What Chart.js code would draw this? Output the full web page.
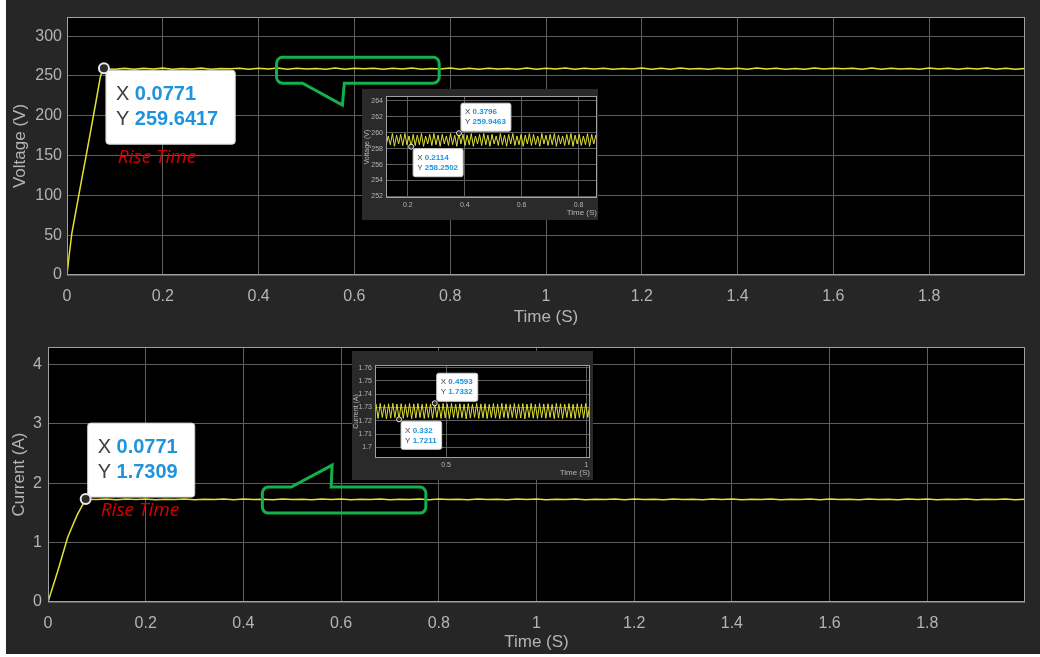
<!DOCTYPE html>
<html>
<head>
<meta charset="utf-8">
<script src="https://cdn.jsdelivr.net/npm/chart.js@4.4.1/dist/chart.umd.min.js"></script>
<style>
  body { margin: 0; background: #ffffff; }
  #fig { position: absolute; left: 6px; top: 0; width: 1034px; height: 654px; background: #262626; }
  canvas { position: absolute; }
  #vMain { left: 0; top: 0; }
  #iMain { left: 0; top: 330px; }
  #vZoom { left: 362px; top: 89px; background: #2a2a2a; }
  #iZoom { left: 352px; top: 351px; background: #2a2a2a; }
</style>
</head>
<body>
<div id="fig"></div>
<canvas id="vMain" width="1040" height="330"></canvas>
<canvas id="iMain" width="1040" height="324"></canvas>
<canvas id="vZoom" width="236" height="131"></canvas>
<canvas id="iZoom" width="241" height="129"></canvas>
<script>
// ---- data ----
const riseTimeV = [0, 0.004, 0.01, 0.02, 0.03, 0.04, 0.05, 0.06, 0.07, 0.0771];
const riseVoltage = [0, 22, 52, 85, 118, 150, 183, 216, 250, 259.6417];

const riseTimeI = [0, 0.01, 0.02, 0.03, 0.04, 0.05, 0.06, 0.07, 0.0771];
const riseCurrent = [0, 0.26, 0.52, 0.8, 1.08, 1.28, 1.47, 1.62, 1.7309];

const steadyTime = [
  0.08, 0.10, 0.12, 0.14, 0.16, 0.18, 0.20, 0.22, 0.24, 0.26,
  0.28, 0.30, 0.32, 0.34, 0.36, 0.38, 0.40, 0.42, 0.44, 0.46,
  0.48, 0.50, 0.52, 0.54, 0.56, 0.58, 0.60, 0.62, 0.64, 0.66,
  0.68, 0.70, 0.72, 0.74, 0.76, 0.78, 0.80, 0.82, 0.84, 0.86,
  0.88, 0.90, 0.92, 0.94, 0.96, 0.98, 1.00, 1.02, 1.04, 1.06,
  1.08, 1.10, 1.12, 1.14, 1.16, 1.18, 1.20, 1.22, 1.24, 1.26,
  1.28, 1.30, 1.32, 1.34, 1.36, 1.38, 1.40, 1.42, 1.44, 1.46,
  1.48, 1.50, 1.52, 1.54, 1.56, 1.58, 1.60, 1.62, 1.64, 1.66,
  1.68, 1.70, 1.72, 1.74, 1.76, 1.78, 1.80, 1.82, 1.84, 1.86,
  1.88, 1.90, 1.92, 1.94, 1.96, 1.98, 2.00,
];
const steadyVoltage = [
  259.1, 258.5, 259.7, 258.4, 259.6, 258.8, 259.9, 258.3, 259.4, 258.6,
  259.8, 258.5, 259.3, 258.9, 259.7, 258.4, 259.5, 258.7, 259.9, 258.3,
  259.6, 258.6, 259.2, 258.5, 259.8, 258.4, 259.6, 258.9, 259.7, 258.3,
  259.5, 258.6, 259.9, 258.5, 259.4, 258.7, 259.8, 258.4, 259.6, 258.3,
  259.7, 258.8, 259.3, 258.5, 259.9, 258.4, 259.6, 258.6, 259.8, 258.3,
  259.5, 258.7, 259.7, 258.4, 259.2, 258.6, 259.9, 258.5, 259.6, 258.3,
  259.8, 258.8, 259.4, 258.4, 259.7, 258.6, 259.5, 258.3, 259.9, 258.7,
  259.6, 258.5, 259.3, 258.4, 259.8, 258.6, 259.7, 258.9, 259.5, 258.3,
  259.9, 258.5, 259.6, 258.7, 259.4, 258.4, 259.8, 258.6, 259.7, 258.3,
  259.5, 258.8, 259.9, 258.4, 259.6, 258.5, 259.2,
];
const steadyCurrent = [
  1.728, 1.723, 1.732, 1.722, 1.731, 1.724, 1.733, 1.721, 1.730, 1.723,
  1.732, 1.722, 1.729, 1.724, 1.731, 1.721, 1.733, 1.723, 1.730, 1.722,
  1.732, 1.724, 1.729, 1.721, 1.731, 1.723, 1.733, 1.722, 1.730, 1.724,
  1.732, 1.721, 1.729, 1.723, 1.731, 1.722, 1.733, 1.724, 1.730, 1.721,
  1.732, 1.723, 1.729, 1.722, 1.731, 1.724, 1.733, 1.721, 1.730, 1.723,
  1.732, 1.722, 1.729, 1.724, 1.731, 1.721, 1.733, 1.723, 1.730, 1.722,
  1.732, 1.724, 1.729, 1.721, 1.731, 1.723, 1.733, 1.722, 1.730, 1.724,
  1.732, 1.721, 1.729, 1.723, 1.731, 1.722, 1.733, 1.724, 1.730, 1.721,
  1.732, 1.723, 1.729, 1.722, 1.731, 1.724, 1.733, 1.721, 1.730, 1.723,
  1.732, 1.722, 1.729, 1.724, 1.731, 1.721, 1.728,
];

// zoomed ripple, voltage inset
const zoomTimeV = [
  0.1163, 0.1236, 0.1309, 0.1382, 0.1455, 0.1528, 0.1601, 0.1674, 0.1747, 0.1820,
  0.1893, 0.1966, 0.2039, 0.2114, 0.2185, 0.2258, 0.2331, 0.2404, 0.2477, 0.2550,
  0.2623, 0.2696, 0.2769, 0.2842, 0.2915, 0.2988, 0.3061, 0.3134, 0.3207, 0.3280,
  0.3353, 0.3426, 0.3499, 0.3572, 0.3645, 0.3718, 0.3796, 0.3864, 0.3937, 0.4010,
  0.4083, 0.4156, 0.4229, 0.4302, 0.4375, 0.4448, 0.4521, 0.4594, 0.4667, 0.4740,
  0.4813, 0.4886, 0.4959, 0.5032, 0.5105, 0.5178, 0.5251, 0.5324, 0.5397, 0.5470,
  0.5543, 0.5616, 0.5689, 0.5762, 0.5835, 0.5908, 0.5981, 0.6054, 0.6127, 0.6200,
  0.6273, 0.6346, 0.6419, 0.6492, 0.6565, 0.6638, 0.6711, 0.6784, 0.6857, 0.6930,
  0.7003, 0.7076, 0.7149, 0.7222, 0.7295, 0.7368, 0.7441, 0.7514, 0.7587, 0.7660,
  0.7733, 0.7806, 0.7879, 0.7952, 0.8025, 0.8098, 0.8171, 0.8244, 0.8317, 0.8390,
  0.8463, 0.8536, 0.8609, 0.8682, 0.8755,
];
const zoomVoltage = [
  259.8, 258.4, 259.6, 258.5, 259.9, 258.3, 259.7, 258.6, 259.8, 258.4,
  259.9, 258.5, 259.6, 258.2502, 259.8, 258.4, 259.7, 258.5, 259.9, 258.3,
  259.6, 258.6, 259.8, 258.4, 259.9, 258.5, 259.7, 258.3, 259.8, 258.6,
  259.6, 258.4, 259.9, 258.5, 259.7, 258.3, 259.9463, 258.6, 259.8, 258.4,
  259.7, 258.5, 259.9, 258.3, 259.6, 258.6, 259.8, 258.4, 259.9, 258.5,
  259.7, 258.3, 259.8, 258.6, 259.6, 258.4, 259.9, 258.5, 259.7, 258.3,
  259.8, 258.6, 259.9, 258.4, 259.6, 258.5, 259.8, 258.3, 259.7, 258.6,
  259.9, 258.4, 259.8, 258.5, 259.6, 258.3, 259.9, 258.6, 259.7, 258.4,
  259.8, 258.5, 259.9, 258.3, 259.7, 258.6, 259.6, 258.4, 259.8, 258.5,
  259.9, 258.3, 259.7, 258.6, 259.8, 258.4, 259.6, 258.5, 259.9, 258.3,
  259.8, 258.6, 259.7, 258.4, 259.9,
];

// zoomed ripple, current inset
const zoomTimeI = [
  0.2421, 0.2496, 0.2571, 0.2646, 0.2721, 0.2796, 0.2870, 0.2945, 0.3020, 0.3095,
  0.3170, 0.3245, 0.3320, 0.3395, 0.3470, 0.3545, 0.3619, 0.3694, 0.3769, 0.3844,
  0.3919, 0.3994, 0.4069, 0.4144, 0.4219, 0.4294, 0.4368, 0.4443, 0.4518, 0.4593,
  0.4668, 0.4743, 0.4818, 0.4893, 0.4968, 0.5043, 0.5117, 0.5192, 0.5267, 0.5342,
  0.5417, 0.5492, 0.5567, 0.5642, 0.5717, 0.5792, 0.5866, 0.5941, 0.6016, 0.6091,
  0.6166, 0.6241, 0.6316, 0.6391, 0.6466, 0.6541, 0.6615, 0.6690, 0.6765, 0.6840,
  0.6915, 0.6990, 0.7065, 0.7140, 0.7215, 0.7290, 0.7364, 0.7439, 0.7514, 0.7589,
  0.7664, 0.7739, 0.7814, 0.7889, 0.7964, 0.8039, 0.8113, 0.8188, 0.8263, 0.8338,
  0.8413, 0.8488, 0.8563, 0.8638, 0.8713, 0.8788, 0.8862, 0.8937, 0.9012, 0.9087,
  0.9162, 0.9237, 0.9312, 0.9387, 0.9462, 0.9537, 0.9611, 0.9686, 0.9761, 0.9836,
  0.9911, 0.9986, 1.0061, 1.0136, 1.0211,
];
const zoomCurrent = [
  1.7222, 1.7325, 1.7218, 1.7330, 1.7225, 1.7322, 1.7215, 1.7328, 1.7220, 1.7331,
  1.7224, 1.7326, 1.7211, 1.7329, 1.7219, 1.7323, 1.7226, 1.7330, 1.7216, 1.7327,
  1.7221, 1.7331, 1.7224, 1.7325, 1.7217, 1.7329, 1.7223, 1.7326, 1.7219, 1.7332,
  1.7225, 1.7324, 1.7218, 1.7330, 1.7222, 1.7327, 1.7216, 1.7331, 1.7224, 1.7325,
  1.7219, 1.7329, 1.7223, 1.7326, 1.7215, 1.7330, 1.7221, 1.7324, 1.7226, 1.7331,
  1.7218, 1.7327, 1.7222, 1.7329, 1.7217, 1.7325, 1.7224, 1.7330, 1.7220, 1.7326,
  1.7216, 1.7331, 1.7223, 1.7328, 1.7219, 1.7324, 1.7225, 1.7330, 1.7218, 1.7327,
  1.7221, 1.7329, 1.7215, 1.7326, 1.7224, 1.7331, 1.7220, 1.7325, 1.7217, 1.7330,
  1.7223, 1.7327, 1.7219, 1.7329, 1.7226, 1.7324, 1.7216, 1.7331, 1.7222, 1.7328,
  1.7218, 1.7326, 1.7224, 1.7330, 1.7220, 1.7325, 1.7217, 1.7329, 1.7223, 1.7327,
  1.7219, 1.7331, 1.7225, 1.7326, 1.7218,
];

// tick labels
const timeTicks = [0, 0.2, 0.4, 0.6, 0.8, 1, 1.2, 1.4, 1.6, 1.8];
const voltTicks = [0, 50, 100, 150, 200, 250, 300];
const currTicks = [0, 1, 2, 3, 4];
const zoomVoltTicks = [252, 254, 256, 258, 260, 262, 264];
const zoomVoltTimeTicks = [0.2, 0.4, 0.6, 0.8];
const zoomCurrTicks = [1.7, 1.71, 1.72, 1.73, 1.74, 1.75, 1.76];
const zoomCurrTimeTicks = [0.5, 1];

// annotations (data units)
const voltCallout = { x0: 0.4375, x1: 0.777, y0: 240.9, y1: 273.5, tail: 'bottom', base0: 0.4917, base1: 0.579, tipX: 0.575, tipY: 213.3 };
const currCallout = { x0: 0.4388, x1: 0.7735, y0: 1.496, y1: 1.933, tail: 'top', base0: 0.498, base1: 0.5796, tipX: 0.5816, tipY: 2.303 };
const voltNote = { x: 0.106, y: 148, text: 'Rise Time' };
const currNote = { x: 0.108, y: 1.546, text: 'Rise Time' };

const FONT = "'Liberation Sans', Arial, sans-serif";
const TEXT = '#b4b4b4';
const GRID = '#5e5e5e';
const TRACE = '#e2e232';

function pts(xs, ys) {
  return xs.map((x, i) => ({ x, y: ys[i] }));
}

function roundRect(ctx, x, y, w, h, r) {
  ctx.beginPath();
  ctx.moveTo(x + r, y);
  ctx.arcTo(x + w, y, x + w, y + h, r);
  ctx.arcTo(x + w, y + h, x, y + h, r);
  ctx.arcTo(x, y + h, x, y, r);
  ctx.arcTo(x, y, x + w, y, r);
  ctx.closePath();
}

function drawTip(ctx, px, py, tip, st) {
  const rows = [['X', String(tip.x)], ['Y', String(tip.y)]];
  const normal = st.size + 'px ' + FONT;
  const bold = 'bold ' + st.size + 'px ' + FONT;
  ctx.save();
  ctx.textBaseline = 'middle';
  ctx.textAlign = 'left';
  let w = 0;
  rows.forEach(([k, v]) => {
    ctx.font = normal;
    const kw = ctx.measureText(k + ' ').width;
    ctx.font = bold;
    w = Math.max(w, kw + ctx.measureText(v).width);
  });
  const bw = st.padL + w + st.padR;
  const bh = st.padT * 2 + rows.length * st.lineH;
  const bx = px + st.gap;
  const by = tip.up ? py - st.gap - bh : py + st.gap;
  ctx.fillStyle = '#ffffff';
  ctx.strokeStyle = '#cfcfcf';
  ctx.lineWidth = 1;
  roundRect(ctx, bx, by, bw, bh, st.radius);
  ctx.fill();
  ctx.stroke();
  rows.forEach(([k, v], i) => {
    const ty = by + st.padT + st.lineH * (i + 0.5);
    ctx.font = normal;
    ctx.fillStyle = '#404040';
    ctx.fillText(k, bx + st.padL, ty);
    const kw = ctx.measureText(k + ' ').width;
    ctx.font = bold;
    ctx.fillStyle = '#1f93dc';
    ctx.fillText(v, bx + st.padL + kw, ty);
  });
  ctx.beginPath();
  ctx.arc(px, py, st.r, 0, Math.PI * 2);
  ctx.fillStyle = '#2b2b2b';
  ctx.fill();
  ctx.lineWidth = st.ring;
  ctx.strokeStyle = '#e8e8e8';
  ctx.stroke();
  ctx.restore();
}

function drawCallout(ctx, xs, ys, c) {
  const L = xs.getPixelForValue(c.x0), R = xs.getPixelForValue(c.x1);
  const T = ys.getPixelForValue(c.y1), B = ys.getPixelForValue(c.y0);
  const b0 = xs.getPixelForValue(c.base0), b1 = xs.getPixelForValue(c.base1);
  const tx = xs.getPixelForValue(c.tipX), ty = ys.getPixelForValue(c.tipY);
  const r = 6;
  ctx.save();
  ctx.beginPath();
  ctx.moveTo(L + r, T);
  if (c.tail === 'top') {
    ctx.lineTo(b0, T);
    ctx.lineTo(tx, ty);
    ctx.lineTo(b1, T);
  }
  ctx.arcTo(R, T, R, B, r);
  ctx.arcTo(R, B, L, B, r);
  if (c.tail === 'bottom') {
    ctx.lineTo(b1, B);
    ctx.lineTo(tx, ty);
    ctx.lineTo(b0, B);
  }
  ctx.arcTo(L, B, L, T, r);
  ctx.arcTo(L, T, R, T, r);
  ctx.closePath();
  ctx.strokeStyle = '#13b04c';
  ctx.lineWidth = 3;
  ctx.lineJoin = 'miter';
  ctx.stroke();
  ctx.restore();
}

function decor(d) {
  return {
    id: 'scopeDecor',
    beforeDraw(chart) {
      const { ctx, chartArea: a } = chart;
      ctx.save();
      ctx.fillStyle = '#000000';
      ctx.fillRect(a.left, a.top, a.right - a.left, a.bottom - a.top);
      ctx.restore();
    },
    afterDatasetsDraw(chart) {
      const { ctx, chartArea: a, scales: { x, y } } = chart;
      ctx.save();
      ctx.strokeStyle = '#a0a0a0';
      ctx.lineWidth = 1;
      ctx.strokeRect(Math.round(a.left) + 0.5, Math.round(a.top) + 0.5,
        Math.round(a.right - a.left) - 1, Math.round(a.bottom - a.top) - 1);
      ctx.restore();
      if (d.callout) drawCallout(ctx, x, y, d.callout);
      if (d.note) {
        ctx.save();
        ctx.font = 'italic 19px "Open Sans", sans-serif';
        ctx.fillStyle = '#d60000';
        ctx.textBaseline = 'middle';
        ctx.fillText(d.note.text, x.getPixelForValue(d.note.x), y.getPixelForValue(d.note.y));
        ctx.restore();
      }
      (d.tips || []).forEach((t) => {
        drawTip(ctx, x.getPixelForValue(t.x), y.getPixelForValue(t.y), t, d.tipStyle);
      });
    },
  };
}

function axis(o) {
  return {
    type: 'linear',
    min: o.min,
    max: o.max,
    afterFit: (s) => { if (s.isHorizontal()) s.height = o.size; else s.width = o.size; },
    afterBuildTicks: (s) => { s.ticks = o.ticks.map((v) => ({ value: v })); },
    ticks: {
      color: TEXT, font: { family: FONT, size: o.tickSize }, padding: o.tickPad,
      maxRotation: 0, autoSkip: false, callback: (v) => String(v),
    },
    grid: { color: GRID, lineWidth: 1, drawTicks: false },
    border: { display: false },
    title: {
      display: true, text: o.title, color: TEXT, align: o.align || 'center',
      font: { family: FONT, size: o.titleSize }, padding: o.titlePad,
    },
  };
}

function makeScope(id, cfg) {
  return new Chart(document.getElementById(id), {
    type: 'line',
    data: {
      datasets: [{
        data: cfg.points,
        borderColor: TRACE,
        borderWidth: cfg.lineWidth,
        pointRadius: 0,
        tension: 0,
        fill: false,
      }],
    },
    options: {
      responsive: false,
      animation: false,
      events: [],
      layout: { padding: cfg.padding },
      plugins: { legend: { display: false }, tooltip: { enabled: false } },
      scales: { x: axis(cfg.x), y: axis(cfg.y) },
    },
    plugins: [decor(cfg.decor)],
  });
}

const bigTip = { size: 20, lineH: 25, padT: 12, padL: 10, padR: 17, gap: 2, radius: 3, r: 5, ring: 2 };
const smallTip = { size: 8, lineH: 10, padT: 4, padL: 4, padR: 5, gap: 2, radius: 2, r: 2.5, ring: 1 };

makeScope('vMain', {
  points: pts(riseTimeV, riseVoltage).concat(pts(steadyTime, steadyVoltage)),
  lineWidth: 1.5,
  padding: { left: 0, top: 17, right: 15, bottom: 0 },
  x: { min: 0, max: 2, ticks: timeTicks, size: 55, tickSize: 16, tickPad: 12, title: 'Time (S)', titleSize: 17, titlePad: { top: 0, bottom: 2 } },
  y: { min: 0, max: 324, ticks: voltTicks, size: 67, tickSize: 16, tickPad: 5, title: 'Voltage (V)', titleSize: 17, titlePad: { top: 10, bottom: 0 } },
  decor: {
    callout: voltCallout,
    note: voltNote,
    tips: [{ x: riseTimeV[9], y: riseVoltage[9], up: false }],
    tipStyle: bigTip,
  },
});

makeScope('iMain', {
  points: pts(riseTimeI, riseCurrent).concat(pts(steadyTime, steadyCurrent)),
  lineWidth: 1.5,
  padding: { left: 0, top: 17, right: 15, bottom: 0 },
  x: { min: 0, max: 2, ticks: timeTicks, size: 52, tickSize: 16, tickPad: 12, title: 'Time (S)', titleSize: 17, titlePad: { top: 0, bottom: 1 } },
  y: { min: 0, max: 4.29, ticks: currTicks, size: 48, tickSize: 16, tickPad: 6, title: 'Current (A)', titleSize: 17, titlePad: { top: 9, bottom: 0 } },
  decor: {
    callout: currCallout,
    note: currNote,
    tips: [{ x: riseTimeI[8], y: riseCurrent[8], up: true }],
    tipStyle: bigTip,
  },
});

makeScope('vZoom', {
  points: pts(zoomTimeV, zoomVoltage),
  lineWidth: 1,
  padding: { left: 0, top: 4, right: 1, bottom: 0 },
  x: { min: 0.123, max: 0.865, ticks: zoomVoltTimeTicks, size: 22, tickSize: 7, tickPad: 3, title: 'Time (S)', titleSize: 8, titlePad: { top: 0, bottom: 2 }, align: 'end' },
  y: { min: 251.8, max: 264.6, ticks: zoomVoltTicks, size: 24, tickSize: 7, tickPad: 3, title: 'Voltage (V)', titleSize: 7, titlePad: { top: 1, bottom: 0 } },
  decor: {
    tips: [
      { x: zoomTimeV[36], y: zoomVoltage[36], up: true },
      { x: zoomTimeV[13], y: zoomVoltage[13], up: false },
    ],
    tipStyle: smallTip,
  },
});

makeScope('iZoom', {
  points: pts(zoomTimeI, zoomCurrent),
  lineWidth: 1,
  padding: { left: 0, top: 14, right: 3, bottom: 0 },
  x: { min: 0.246, max: 1.014, ticks: zoomCurrTimeTicks, size: 22, tickSize: 7, tickPad: 3, title: 'Time (S)', titleSize: 8, titlePad: { top: 0, bottom: 2 }, align: 'end' },
  y: { min: 1.692, max: 1.762, ticks: zoomCurrTicks, size: 23, tickSize: 7, tickPad: 3, title: 'Current (A)', titleSize: 7, titlePad: { top: 0, bottom: 0 } },
  decor: {
    tips: [
      { x: zoomTimeI[29], y: zoomCurrent[29], up: true },
      { x: zoomTimeI[12], y: zoomCurrent[12], up: false },
    ],
    tipStyle: smallTip,
  },
});
</script>
</body>
</html>
